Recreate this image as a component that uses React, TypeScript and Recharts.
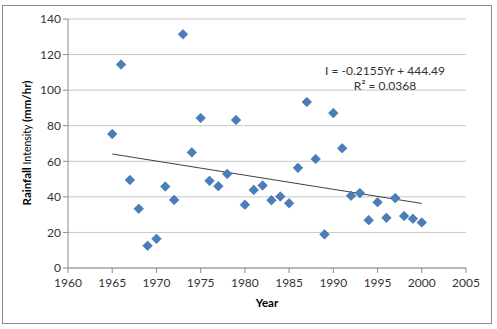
import { ScatterChart, Scatter, XAxis, YAxis, CartesianGrid } from "recharts";

// annual max rainfall intensity
const YEARS = [
  1965, 1966, 1967, 1968, 1969, 1970, 1971, 1972, 1973, 1974, 1975, 1976,
  1977, 1978, 1979, 1980, 1981, 1982, 1983, 1984, 1985, 1986, 1987, 1988,
  1989, 1990, 1991, 1992, 1993, 1994, 1995, 1996, 1997, 1998, 1999, 2000,
];
const INTENSITY = [
  75.3, 114.4, 49.5, 33.3, 12.5, 16.4, 45.8, 38.3, 131.4, 65, 84.3, 49,
  46, 52.9, 83.2, 35.6, 43.9, 46.4, 38.1, 40.2, 36.4, 56.3, 93.3, 61.3,
  18.9, 87.1, 67.3, 40.6, 42.1, 26.9, 37, 28.2, 39.3, 29.2, 27.7, 25.6,
];
const TREND_YEARS = [1965, 2000];
const TREND_VALUES = [64.1, 36.3];
const X_TICKS = [1960, 1965, 1970, 1975, 1980, 1985, 1990, 1995, 2000, 2005];
const Y_TICKS = [0, 20, 40, 60, 80, 100, 120, 140];

const points = YEARS.map((year, i) => ({ year, value: INTENSITY[i] }));
const trend = TREND_YEARS.map((year, i) => ({ year, value: TREND_VALUES[i] }));

const FONT = "Lato, 'Open Sans', sans-serif";
const tickStyle = { fill: "#333", fontSize: 12, fontFamily: FONT };

function Diamond(props: any) {
  const { cx, cy } = props;
  const r = 4.8;
  return (
    <polygon
      points={`${cx},${cy - r} ${cx + r},${cy} ${cx},${cy + r} ${cx - r},${cy}`}
      fill="#4a7ebb"
      stroke="#3d6ca6"
      strokeWidth={0.6}
    />
  );
}

export default function App() {
  return (
    <div
      style={{
        position: "absolute",
        left: 0,
        top: 0,
        width: 497,
        height: 329,
        background: "#fff",
      }}
    >
      <div
        style={{
          position: "absolute",
          left: 2,
          top: 5,
          width: 488,
          height: 317,
          border: "1px solid #8c8c8c",
        }}
      />
      <ScatterChart
        width={497}
        height={329}
        margin={{ top: 19, right: 31, left: 28, bottom: 31 }}
        style={{ position: "absolute", left: 0, top: 0 }}
      >
        <CartesianGrid vertical={false} stroke="#c8c8c8" />
        <XAxis
          type="number"
          dataKey="year"
          domain={[1960, 2005]}
          ticks={X_TICKS}
          height={30}
          tick={tickStyle}
          tickSize={5}
          tickMargin={5}
          stroke="#8c8c8c"
          allowDataOverflow
        />
        <YAxis
          type="number"
          dataKey="value"
          domain={[0, 140]}
          ticks={Y_TICKS}
          width={40}
          tick={tickStyle}
          tickSize={5}
          stroke="#8c8c8c"
          allowDataOverflow
        />
        <Scatter
          data={trend}
          line={{ stroke: "#404040", strokeWidth: 1 }}
          shape={() => <g />}
          isAnimationActive={false}
        />
        <Scatter data={points} shape={Diamond} isAnimationActive={false} />
      </ScatterChart>
      <svg
        width={497}
        height={329}
        style={{ position: "absolute", left: 0, top: 0, pointerEvents: "none" }}
        fontFamily={FONT}
      >
        <text
          transform="translate(31,143) rotate(-90)"
          textAnchor="middle"
          fill="#000"
          fontSize={11.5}
        >
          <tspan fontWeight="bold">Rainfall </tspan>
          <tspan fontSize={10.5}>Intensity </tspan>
          <tspan fontWeight="bold">(mm/hr)</tspan>
        </text>
        <text x={267} y={307} textAnchor="middle" fontWeight="bold" fontSize={11.5}>
          Year
        </text>
        <text x={385} y={75} textAnchor="middle" fill="#333" fontSize={12}>
          I = -0.2155Yr + 444.49
        </text>
        <text x={385} y={90} textAnchor="middle" fill="#333" fontSize={12}>
          R² = 0.0368
        </text>
      </svg>
    </div>
  );
}
